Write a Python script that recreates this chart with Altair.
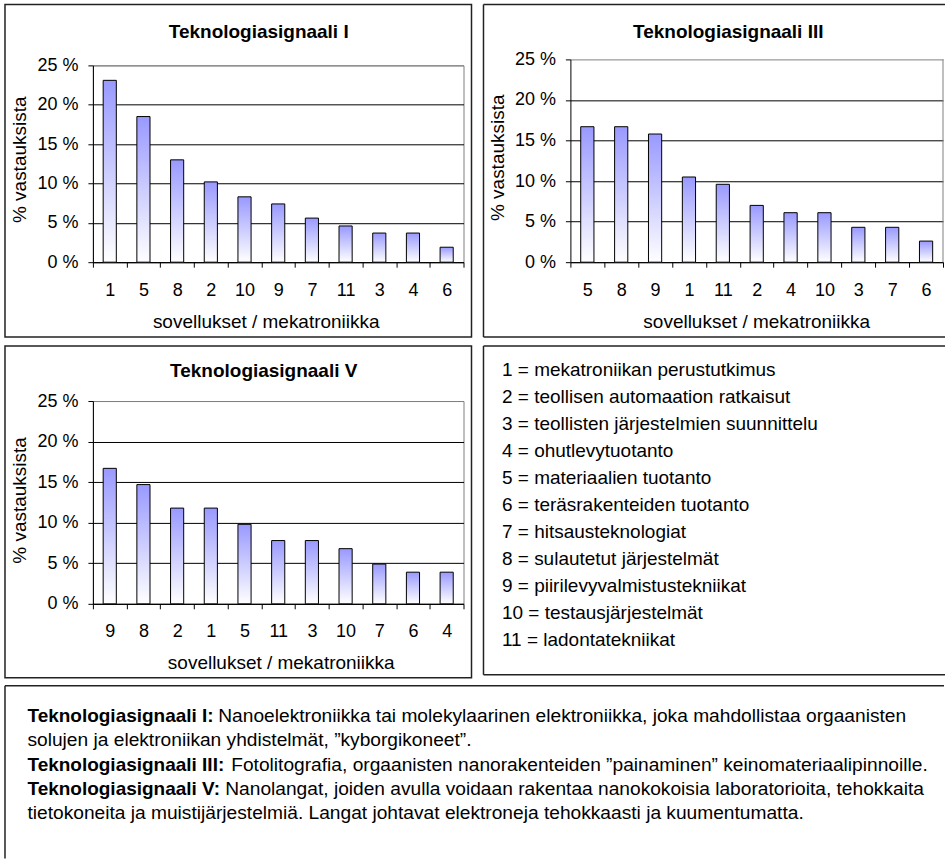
import altair as alt
import pandas as pd

FONT = "Liberation Sans"

# ---------------- data ----------------
cats_I = ["1", "5", "8", "2", "10", "9", "7", "11", "3", "4", "6"]
vals_I = [23.1, 18.5, 13.0, 10.2, 8.3, 7.4, 5.6, 4.6, 3.7, 3.7, 1.9]

cats_III = ["5", "8", "9", "1", "11", "2", "4", "10", "3", "7", "6"]
vals_III = [16.7, 16.7, 15.8, 10.5, 9.6, 7.0, 6.1, 6.1, 4.3, 4.3, 2.6]

cats_V = ["9", "8", "2", "1", "5", "11", "3", "10", "7", "6", "4"]
vals_V = [16.7, 14.7, 11.8, 11.8, 9.8, 7.8, 7.8, 6.8, 4.9, 3.9, 3.9]

y_ticks = [0, 5, 10, 15, 20, 25]
titles = ["Teknologiasignaali I", "Teknologiasignaali III", "Teknologiasignaali V"]
x_title = "sovellukset / mekatroniikka"
y_title = "% vastauksista"

legend_lines = [
    "1 = mekatroniikan perustutkimus",
    "2 = teollisen automaation ratkaisut",
    "3 = teollisten järjestelmien suunnittelu",
    "4 = ohutlevytuotanto",
    "5 = materiaalien tuotanto",
    "6 = teräsrakenteiden tuotanto",
    "7 = hitsausteknologiat",
    "8 = sulautetut järjestelmät",
    "9 = piirilevyvalmistustekniikat",
    "10 = testausjärjestelmät",
    "11 = ladontatekniikat",
]

desc_bold = ["Teknologiasignaali I:", "", "Teknologiasignaali III:", "Teknologiasignaali V:", ""]
desc_text = [
    "Nanoelektroniikka tai molekylaarinen elektroniikka, joka mahdollistaa orgaanisten",
    "solujen ja elektroniikan yhdistelmät, ”kyborgikoneet”.",
    "Fotolitografia, orgaanisten nanorakenteiden ”painaminen” keinomateriaalipinnoille.",
    "Nanolangat, joiden avulla voidaan rakentaa nanokokoisia laboratorioita, tehokkaita",
    "tietokoneita ja muistijärjestelmiä. Langat johtavat elektroneja tehokkaasti ja kuumentumatta.",
]

# ---------------- styling ----------------
GRAD = {
    "gradient": "linear", "x1": 0, "y1": 0, "x2": 0, "y2": 1,
    "stops": [{"offset": 0, "color": "#9999ff"}, {"offset": 1, "color": "#ffffff"}],
}
BORDER = "#222222"
BW = 1.5
TXT = 19
DESC = 19.2
DESC_BOLD = 19.0


def one_row():
    return pd.DataFrame({"k": [0]})


def border_layers(x0, x1, y0, y1, sides="full"):
    base = alt.Chart(one_row())
    if sides == "full":
        return [base.mark_rect(fill="white", fillOpacity=0, stroke=BORDER, strokeWidth=BW).encode(
            x=alt.value(x0), x2=alt.value(x1), y=alt.value(y0), y2=alt.value(y1))]
    out = [
        base.mark_rule(color=BORDER, strokeWidth=BW).encode(x=alt.value(x0), x2=alt.value(x1), y=alt.value(y0)),
        base.mark_rule(color=BORDER, strokeWidth=BW).encode(x=alt.value(x0), y=alt.value(y0), y2=alt.value(y1)),
    ]
    if sides == "open_right":
        out.append(
            base.mark_rule(color=BORDER, strokeWidth=BW).encode(x=alt.value(x0), x2=alt.value(x1), y=alt.value(y1))
        )
    return out


def bar_panel(title, cats, vals, w, h, box, title_xy, xtitle_x, ytitle_xy, sides, top_shift=0):
    df = pd.DataFrame({"cat": cats, "val": vals})
    x = alt.X(
        "cat:N", sort=cats,
        scale=alt.Scale(paddingInner=0, paddingOuter=0),
        axis=alt.Axis(
            title=x_title, labelAngle=0, tickBand="extent", tickSize=5,
            labelPadding=23, labelBaseline="middle",
            titleX=xtitle_x, titleY=59, titleBaseline="middle", grid=False,
        ),
    )
    yscale = alt.Scale(domain=[0, 25], nice=False, zero=True)
    if top_shift:
        yscale = alt.Scale(domain=[0, 25], nice=False, zero=True, range=[h, -top_shift])
    y = alt.Y(
        "val:Q",
        scale=yscale,
        axis=alt.Axis(
            title=y_title, values=y_ticks, labelExpr="datum.value + ' %'",
            tickSize=5, labelPadding=10, grid=True,
            gridColor={"condition": {"test": "datum.value == 25", "value": "#808080"}, "value": "#000000"},
            titleX=ytitle_xy[0], titleY=ytitle_xy[1], titleBaseline="middle",
        ),
    )
    bars = alt.Chart(df).mark_bar(
        fill=GRAD, stroke="#000000", strokeWidth=1, width={"band": 0.39}
    ).encode(x=x, y=y)
    head = alt.Chart(one_row()).mark_text(
        font=FONT, fontSize=19, fontWeight="bold", align="center", baseline="middle", color="black"
    ).encode(x=alt.value(title_xy[0]), y=alt.value(title_xy[1]), text=alt.value(title))
    layers = border_layers(box[0], box[1], box[2], box[3], sides) + [bars, head]
    if top_shift:
        layers.append(
            alt.Chart(one_row()).mark_rule(color="#808080", strokeWidth=1).encode(
                x=alt.value(w), y=alt.value(-top_shift), y2=alt.value(h))
        )
        view = alt.ViewConfig(stroke=None)
    else:
        view = alt.ViewConfig(stroke="#808080", strokeWidth=1)
    return alt.layer(*layers).properties(width=w, height=h, view=view)


p1 = bar_panel(titles[0], cats_I, vals_I, 371, 197, (-88, 379, -61, 272), (166, -33), 173, (-73, 94), "full")
p2 = bar_panel(titles[1], cats_III, vals_III, 373, 197, (-87, 375, -61, 272), (158, -33), 186, (-73, 92),
               "open_right", top_shift=6)
p3 = bar_panel(titles[2], cats_V, vals_V, 371, 203, (-88, 379, -55, 277), (171, -30), 188, (-73, 99), "full")

# ---------------- legend panel ----------------
leg_df = pd.DataFrame({"row": list(range(len(legend_lines))), "label": legend_lines})
leg_text = alt.Chart(leg_df).mark_text(
    font=FONT, fontSize=TXT, align="left", baseline="middle", color="black"
).encode(
    x=alt.value(18.5),
    y=alt.Y("row:Q", scale=alt.Scale(domain=[1.1637, 11.286], reverse=True, nice=False, zero=False), axis=None),
    text="label:N",
)
legend = alt.layer(*(border_layers(0, 462, -55, 274, "open_right") + [leg_text])).properties(
    width=462, height=274, view=alt.ViewConfig(stroke=None)
)

# ---------------- description panel ----------------
desc_df = pd.DataFrame({"row": list(range(len(desc_text))), "bold": desc_bold, "text": desc_text})
ydesc = alt.Y("row:Q", scale=alt.Scale(domain=[-1.255, 5.864], reverse=True, nice=False, zero=False), axis=None)
desc_layers = border_layers(-88, 852, 0, 173, "top_left")
dbase = alt.Chart(desc_df)
X0 = -65.5
desc_layers.append(
    dbase.mark_text(font=FONT, fontSize=DESC_BOLD, fontWeight="bold", align="left", baseline="middle", color="black")
    .encode(x=alt.value(X0), y=ydesc, text="bold:N")
    .transform_filter("datum.bold != ''")
)
desc_layers.append(
    dbase.mark_text(font=FONT, fontSize=DESC, align="left", baseline="middle", color="black")
    .encode(x=alt.value(X0), y=ydesc, text="text:N")
    .transform_filter("datum.bold == ''")
)
text_starts = {0: X0 + 191, 2: X0 + 204, 3: X0 + 198}
for r, xs in text_starts.items():
    desc_layers.append(
        dbase.mark_text(font=FONT, fontSize=DESC, align="left", baseline="middle", color="black")
        .encode(x=alt.value(xs), y=ydesc, text="text:N")
        .transform_filter(f"datum.row == {r}")
    )
desc = alt.layer(*desc_layers).properties(width=852, height=173, view=alt.ViewConfig(stroke=None))

row1 = alt.hconcat(p1, p2, spacing=9)
row2 = alt.hconcat(p3, legend, spacing=9)
chart = alt.vconcat(row1, row2, desc, spacing=5).properties(
    padding={"left": 3, "top": 2, "right": 0, "bottom": 0},
).configure(background="white").configure_axis(
    labelFont=FONT, labelFontSize=18, labelColor="black",
    titleFont=FONT, titleFontSize=19, titleFontWeight="normal", titleColor="black",
    domainColor="black", tickColor="black", domainWidth=1, tickWidth=1, gridWidth=1,
)

chart.save("out.html", embed_options={"renderer": "svg", "actions": False})
